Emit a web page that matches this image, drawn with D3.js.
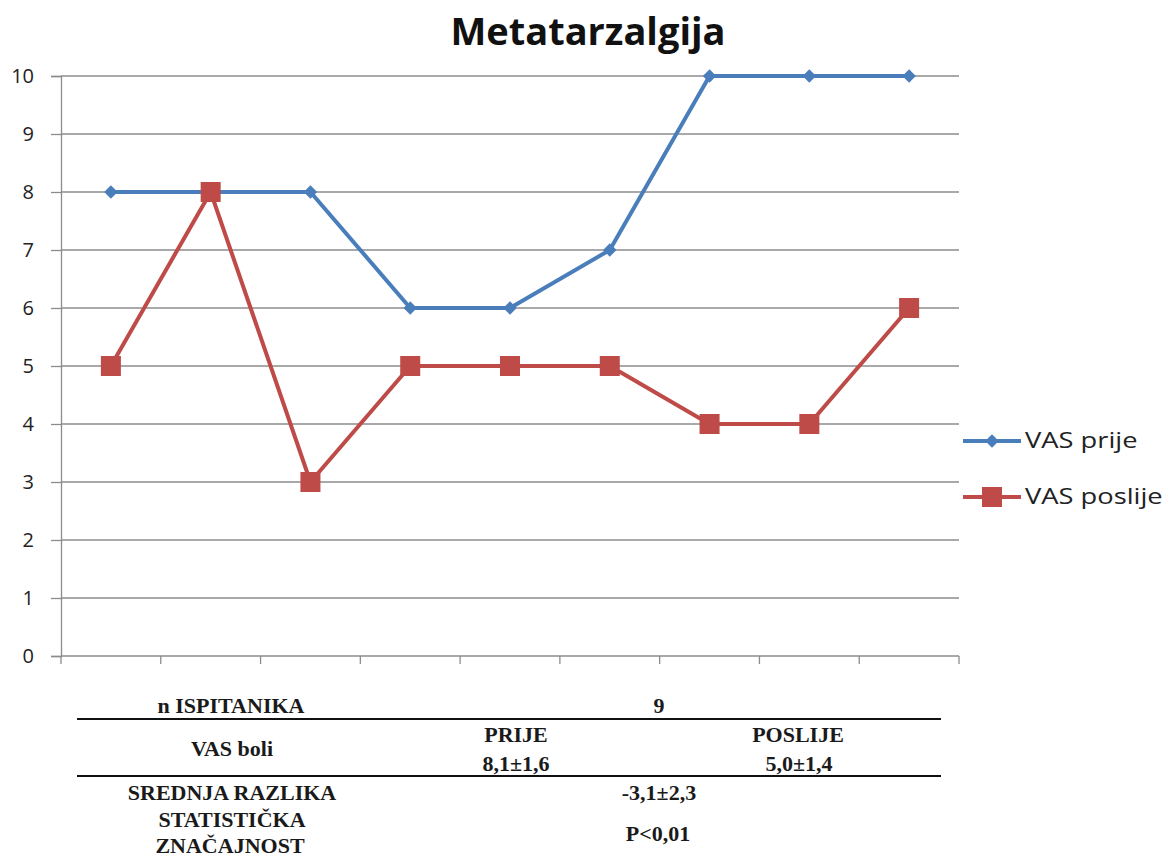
<!DOCTYPE html>
<html>
<head>
<meta charset="utf-8">
<script src="https://cdn.jsdelivr.net/npm/d3@7"></script>
<style>
  body { margin: 0; background: #fff; }
  .tick text { font-family: "Open Sans", sans-serif; }
  .tbl { font-family: "Liberation Serif", serif; font-weight: bold; font-size: 22px; fill: #1a1a1a; }
</style>
</head>
<body>
<svg class="chart"></svg>
<script>
var categories = [1, 2, 3, 4, 5, 6, 7, 8, 9];
var vasPrije = [8, 8, 8, 6, 6, 7, 10, 10, 10];
var vasPoslije = [5, 8, 3, 5, 5, 5, 4, 4, 6];
var yTicks = [0, 1, 2, 3, 4, 5, 6, 7, 8, 9, 10];
var seriesNames = ["VAS prije", "VAS poslije"];
var tableRows = [
  ["n ISPITANIKA", "9"],
  ["VAS boli", "PRIJE", "8,1±1,6", "POSLIJE", "5,0±1,4"],
  ["SREDNJA RAZLIKA", "-3,1±2,3"],
  ["STATISTIČKA", "ZNAČAJNOST", "P<0,01"]
];

var w = 1174, h = 858;
var plotLeft = 61, plotRight = 959, plotTop = 76, plotBottom = 656;

var svg = d3.select(".chart").attr("width", w).attr("height", h);

var xScale = d3.scaleBand().domain(categories).range([plotLeft, plotRight]);
var yScale = d3.scaleLinear().domain([0, 10]).range([plotBottom, plotTop]);

// gridlines
svg.append("g")
  .selectAll("line")
  .data(yTicks.slice(1))
  .enter().append("line")
  .attr("x1", plotLeft).attr("x2", plotRight)
  .attr("y1", yScale).attr("y2", yScale)
  .attr("stroke", "#8c8c8c").attr("stroke-width", 1.3);

// y axis
var yAxis = svg.append("g")
  .attr("transform", "translate(" + plotLeft + ",0)")
  .call(d3.axisLeft(yScale).tickValues(yTicks).tickSize(10).tickPadding(17));
yAxis.selectAll("line, path").attr("stroke", "#8c8c8c").attr("stroke-width", 1.3);
yAxis.selectAll("text").attr("font-size", 20).attr("fill", "#222");

// x axis, ticks at band edges
var edges = categories.map(function(c) { return xScale(c); }).concat([plotRight]);
var xg = svg.append("g");
xg.append("line").attr("x1", plotLeft).attr("x2", plotRight)
  .attr("y1", plotBottom).attr("y2", plotBottom)
  .attr("stroke", "#8c8c8c").attr("stroke-width", 1.3);
xg.selectAll(".xt").data(edges).enter().append("line")
  .attr("x1", function(d) { return d; }).attr("x2", function(d) { return d; })
  .attr("y1", plotBottom).attr("y2", plotBottom + 8)
  .attr("stroke", "#8c8c8c").attr("stroke-width", 1.3);

var cx = function(d, i) { return xScale(categories[i]) + xScale.bandwidth() / 2; };

var line = d3.line()
  .x(function(d, i) { return cx(d, i); })
  .y(function(d) { return yScale(d); });

var colors = ["#4a7ebb", "#be4b48"];

svg.append("path").datum(vasPrije)
  .attr("d", line).attr("fill", "none")
  .attr("stroke", colors[0]).attr("stroke-width", 4).attr("stroke-linejoin", "round");
svg.append("path").datum(vasPoslije)
  .attr("d", line).attr("fill", "none")
  .attr("stroke", colors[1]).attr("stroke-width", 4).attr("stroke-linejoin", "round");

var diamond = d3.symbol().type(d3.symbolDiamond2).size(115);

svg.append("g").selectAll("path")
  .data(vasPrije).enter().append("path")
  .attr("d", diamond)
  .attr("transform", function(d, i) { return "translate(" + cx(d, i) + "," + yScale(d) + ")"; })
  .attr("fill", colors[0]);

svg.append("g").selectAll("rect")
  .data(vasPoslije).enter().append("rect")
  .attr("x", function(d, i) { return cx(d, i) - 10; })
  .attr("y", function(d) { return yScale(d) - 10; })
  .attr("width", 20).attr("height", 20)
  .attr("fill", colors[1]);

// title
svg.append("text")
  .attr("x", 588).attr("y", 45)
  .attr("text-anchor", "middle")
  .attr("font-family", "Open Sans, sans-serif")
  .attr("font-size", 38)
  .attr("font-weight", "bold")
  .attr("fill", "#111")
  .text("Metatarzalgija");

// legend
var lg = svg.append("g");
[441, 497].forEach(function(ly, i) {
  lg.append("line").attr("x1", 963).attr("x2", 1021).attr("y1", ly).attr("y2", ly)
    .attr("stroke", colors[i]).attr("stroke-width", 4);
  if (i === 0) {
    lg.append("path").attr("d", diamond).attr("transform", "translate(992," + ly + ")").attr("fill", colors[0]);
  } else {
    lg.append("rect").attr("x", 982).attr("y", ly - 10).attr("width", 20).attr("height", 20).attr("fill", colors[1]);
  }
  lg.append("text")
    .attr("transform", "translate(1025," + (ly + 7) + ") scale(1.3,1)")
    .attr("font-family", "Open Sans, sans-serif").attr("font-size", 21).attr("fill", "#222")
    .text(seriesNames[i]);
});

// stats table
var tb = svg.append("g");
[719, 776].forEach(function(ly) {
  tb.append("line").attr("x1", 77).attr("x2", 941).attr("y1", ly).attr("y2", ly)
    .attr("stroke", "#111").attr("stroke-width", 2);
});
function cell(x, y, t) {
  tb.append("text").attr("class", "tbl").attr("x", x).attr("y", y)
    .attr("text-anchor", "middle").text(t);
}
cell(231, 713, tableRows[0][0]);
cell(659, 713, tableRows[0][1]);
cell(232, 756, tableRows[1][0]);
cell(516, 742, tableRows[1][1]);
cell(516, 771, tableRows[1][2]);
cell(798, 742, tableRows[1][3]);
cell(799, 771, tableRows[1][4]);
cell(232, 800, tableRows[2][0]);
cell(659, 800, tableRows[2][1]);
cell(232, 827, tableRows[3][0]);
cell(230, 853, tableRows[3][1]);
cell(658, 841, tableRows[3][2]);
</script>
</body>
</html>
